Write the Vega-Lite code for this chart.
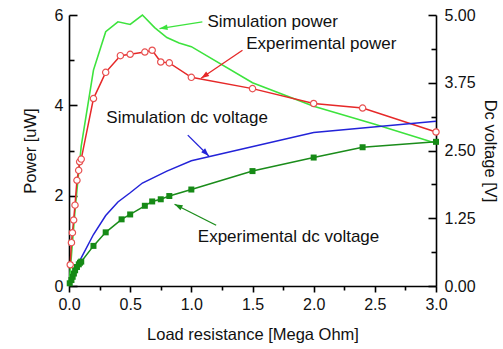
{
  "$schema": "https://vega.github.io/schema/vega-lite/v6.json",
  "width": 367,
  "height": 271,
  "autosize": {"type": "none"},
  "padding": {"left": 69, "top": 15, "right": 67, "bottom": 63},
  "background": "white",
  "config": {
    "view": {"stroke": null},
    "font": "Liberation Sans",
    "axis": {
      "labelFont": "Liberation Sans",
      "titleFont": "Liberation Sans",
      "labelFontSize": 16,
      "titleFontSize": 16.5,
      "titleFontWeight": "normal",
      "labelColor": "#111111",
      "titleColor": "#111111",
      "domainColor": "#000000",
      "tickColor": "#000000",
      "domainWidth": 1.6,
      "tickWidth": 1.6,
      "grid": false,
      "labelFlush": false,
      "labelOverlap": false
    }
  },
  "datasets": {
    "simPower": [
      {"R": 0, "P": 0}, {"R": 0.05, "P": 1.7}, {"R": 0.1, "P": 3.1}, {"R": 0.2, "P": 4.78},
      {"R": 0.3, "P": 5.63}, {"R": 0.4, "P": 5.85}, {"R": 0.5, "P": 5.79}, {"R": 0.6, "P": 6.0},
      {"R": 0.7, "P": 5.72}, {"R": 0.8, "P": 5.5}, {"R": 0.9, "P": 5.38}, {"R": 1.0, "P": 5.3},
      {"R": 1.5, "P": 4.5}, {"R": 2.0, "P": 3.98}, {"R": 2.5, "P": 3.58}, {"R": 3.0, "P": 3.16}
    ],
    "expPower": [
      {"R": 0.01, "P": 0.47}, {"R": 0.02, "P": 0.96}, {"R": 0.028, "P": 1.18}, {"R": 0.038, "P": 1.46},
      {"R": 0.049, "P": 1.79}, {"R": 0.065, "P": 2.34}, {"R": 0.079, "P": 2.56}, {"R": 0.087, "P": 2.75},
      {"R": 0.1, "P": 2.81}, {"R": 0.2, "P": 4.15}, {"R": 0.3, "P": 4.73}, {"R": 0.42, "P": 5.1},
      {"R": 0.5, "P": 5.13}, {"R": 0.62, "P": 5.18}, {"R": 0.68, "P": 5.22}, {"R": 0.75, "P": 4.96},
      {"R": 0.82, "P": 4.94}, {"R": 1.0, "P": 4.62}, {"R": 1.5, "P": 4.37}, {"R": 2.0, "P": 4.04},
      {"R": 2.4, "P": 3.94}, {"R": 3.0, "P": 3.41}
    ],
    "simDc": [
      {"R": 0, "V": 0}, {"R": 0.05, "V": 0.27}, {"R": 0.1, "V": 0.52}, {"R": 0.2, "V": 0.95},
      {"R": 0.3, "V": 1.3}, {"R": 0.4, "V": 1.55}, {"R": 0.5, "V": 1.72}, {"R": 0.6, "V": 1.9},
      {"R": 0.8, "V": 2.12}, {"R": 1.0, "V": 2.31}, {"R": 2.0, "V": 2.83}, {"R": 3.0, "V": 3.04}
    ],
    "expDc": [
      {"R": 0.006, "V": 0.05}, {"R": 0.02, "V": 0.11}, {"R": 0.03, "V": 0.17}, {"R": 0.04, "V": 0.23},
      {"R": 0.05, "V": 0.29}, {"R": 0.065, "V": 0.35}, {"R": 0.08, "V": 0.4}, {"R": 0.09, "V": 0.43},
      {"R": 0.1, "V": 0.45}, {"R": 0.2, "V": 0.74}, {"R": 0.3, "V": 0.99}, {"R": 0.43, "V": 1.23},
      {"R": 0.5, "V": 1.32}, {"R": 0.62, "V": 1.48}, {"R": 0.68, "V": 1.56}, {"R": 0.75, "V": 1.6},
      {"R": 0.82, "V": 1.66}, {"R": 1.0, "V": 1.78}, {"R": 1.5, "V": 2.12}, {"R": 2.0, "V": 2.37},
      {"R": 2.4, "V": 2.56}, {"R": 3.0, "V": 2.66}
    ],
    "notes": [
      {"label": "Simulation power", "tx": 1.132, "ty": 5.85, "ax": 1.09, "ay": 5.85, "hx": 0.74, "hy": 5.7},
      {"label": "Experimental power", "tx": 1.448, "ty": 5.35, "ax": 1.418, "ay": 5.22, "hx": 1.08, "hy": 4.6},
      {"label": "Simulation dc voltage", "tx": 0.305, "ty": 3.71, "ax": 0.971, "ay": 3.34, "hx": 1.143, "hy": 2.88},
      {"label": "Experimental dc voltage", "tx": 1.053, "ty": 1.09, "ax": 1.203, "ay": 1.345, "hx": 0.863, "hy": 1.81}
    ]
  },
  "resolve": {"scale": {"x": "independent", "y": "independent"}},
  "layer": [
    {
      "data": {"name": "simPower"},
      "mark": {"type": "line", "color": "#3de33d", "strokeWidth": 1.6},
      "encoding": {
        "x": {"field": "R", "type": "quantitative", "scale": {"domain": [0, 3], "nice": false, "zero": false},
          "axis": {"orient": "bottom", "values": [0, 0.5, 1, 1.5, 2, 2.5, 3], "format": ".1f", "title": "Load resistance [Mega Ohm]", "tickSize": 6, "labelPadding": 4, "titlePadding": 14}},
        "y": {"field": "P", "type": "quantitative", "scale": {"domain": [0, 6], "nice": false},
          "axis": {"orient": "left", "values": [0, 2, 4, 6], "format": "d", "title": "Power [uW]", "tickSize": -8, "labelPadding": 14, "titlePadding": 16}}
      }
    },
    {
      "data": {"name": "expPower"},
      "mark": {"type": "line", "color": "#e62828", "strokeWidth": 1.5},
      "encoding": {
        "x": {"field": "R", "type": "quantitative", "scale": {"domain": [0, 3], "nice": false, "zero": false},
          "axis": {"orient": "bottom", "values": [0.25, 0.75, 1.25, 1.75, 2.25, 2.75], "labels": false, "domain": false, "title": null, "tickSize": 4}},
        "y": {"field": "P", "type": "quantitative", "scale": {"domain": [0, 6], "nice": false},
          "axis": {"orient": "left", "values": [1, 3, 5], "labels": false, "domain": false, "title": null, "tickSize": -5}}
      }
    },
    {
      "data": {"name": "simDc"},
      "mark": {"type": "line", "color": "#2323d8", "strokeWidth": 1.5},
      "encoding": {
        "x": {"field": "R", "type": "quantitative", "scale": {"domain": [0, 3], "nice": false, "zero": false}, "axis": null},
        "y": {"field": "V", "type": "quantitative", "scale": {"domain": [0, 5], "nice": false},
          "axis": {"orient": "right", "values": [0, 1.25, 2.5, 3.75, 5], "format": ".2f", "title": "Dc voltage [V]", "tickSize": -8, "labelPadding": 16, "titlePadding": 6}}
      }
    },
    {
      "data": {"name": "expDc"},
      "mark": {"type": "line", "color": "#1a8c1a", "strokeWidth": 1.5},
      "encoding": {
        "x": {"field": "R", "type": "quantitative", "scale": {"domain": [0, 3], "nice": false, "zero": false}, "axis": null},
        "y": {"field": "V", "type": "quantitative", "scale": {"domain": [0, 5], "nice": false},
          "axis": {"orient": "right", "values": [0.625, 1.875, 3.125, 4.375], "labels": false, "domain": false, "title": null, "tickSize": -5}}
      }
    },
    {
      "data": {"name": "expDc"},
      "mark": {"type": "point", "shape": "square", "filled": true, "color": "#168a16", "size": 36, "opacity": 1},
      "encoding": {
        "x": {"field": "R", "type": "quantitative", "scale": {"domain": [0, 3], "nice": false, "zero": false}, "axis": null},
        "y": {"field": "V", "type": "quantitative", "scale": {"domain": [0, 5], "nice": false}, "axis": null}
      }
    },
    {
      "data": {"name": "expPower"},
      "mark": {"type": "point", "shape": "circle", "filled": true, "fill": "white", "stroke": "#e85050", "strokeWidth": 1.2, "size": 40, "opacity": 1},
      "encoding": {
        "x": {"field": "R", "type": "quantitative", "scale": {"domain": [0, 3], "nice": false, "zero": false}, "axis": null},
        "y": {"field": "P", "type": "quantitative", "scale": {"domain": [0, 6], "nice": false}, "axis": null}
      }
    },
    {
      "data": {"name": "notes"},
      "mark": {"type": "rule", "strokeWidth": 1.3},
      "encoding": {
        "x": {"field": "ax", "type": "quantitative", "scale": {"domain": [0, 3], "nice": false, "zero": false}, "axis": null},
        "x2": {"field": "hx"},
        "y": {"field": "ay", "type": "quantitative", "scale": {"domain": [0, 6], "nice": false}, "axis": null},
        "y2": {"field": "hy"},
        "color": {"field": "label", "type": "nominal", "legend": null,
          "scale": {"domain": ["Simulation power", "Experimental power", "Simulation dc voltage", "Experimental dc voltage"], "range": ["#3de33d", "#e62828", "#2323d8", "#1a8c1a"]}}
      }
    },
    {
      "data": {"name": "notes"},
      "mark": {"type": "point", "filled": true, "size": 256, "opacity": 1},
      "encoding": {
        "x": {"field": "hx", "type": "quantitative", "scale": {"domain": [0, 3], "nice": false, "zero": false}, "axis": null},
        "y": {"field": "hy", "type": "quantitative", "scale": {"domain": [0, 6], "nice": false}, "axis": null},
        "color": {"field": "label", "type": "nominal", "legend": null,
          "scale": {"domain": ["Simulation power", "Experimental power", "Simulation dc voltage", "Experimental dc voltage"], "range": ["#3de33d", "#e62828", "#2323d8", "#1a8c1a"]}},
        "shape": {"field": "label", "type": "nominal", "legend": null,
          "scale": {"domain": ["Simulation power", "Experimental power", "Simulation dc voltage", "Experimental dc voltage"],
            "range": ["M0,0L0.935,-0.498L1.041,0.194Z", "M0,0L0.627,-0.854L1.023,-0.276Z", "M0,0L-0.954,-0.46L-0.46,-0.954Z", "M0,0L1.051,0.137L0.735,0.763Z"]}}
      }
    },
    {
      "data": {"name": "notes"},
      "mark": {"type": "text", "align": "left", "baseline": "middle", "fontSize": 17, "font": "Liberation Sans", "color": "#111111"},
      "encoding": {
        "x": {"field": "tx", "type": "quantitative", "scale": {"domain": [0, 3], "nice": false, "zero": false}, "axis": null},
        "y": {"field": "ty", "type": "quantitative", "scale": {"domain": [0, 6], "nice": false}, "axis": null},
        "text": {"field": "label"}
      }
    }
  ]
}
